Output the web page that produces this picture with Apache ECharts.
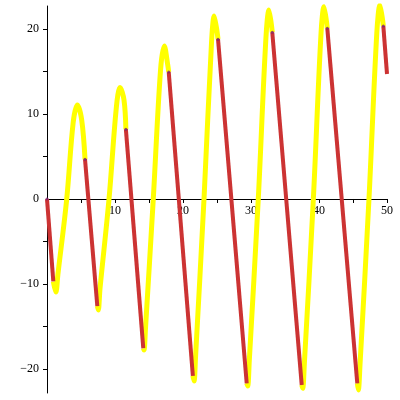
<!DOCTYPE html>
<html>
<head>
<meta charset="utf-8">
<script src="https://cdn.jsdelivr.net/npm/echarts@6/dist/echarts.min.js"></script>
<style>html,body{margin:0;padding:0;background:#fff;}#c{width:400px;height:400px;}</style>
</head>
<body>
<div id="c"></div>
<script>
// Red straight segments (start -> end)
const redStartX = [0, 5.59, 11.6, 17.9, 25.15, 33.13, 41.22, 49.46];
const redStartY = [0, 4.67, 8.2, 14.94, 18.8, 19.6, 20.08, 20.35];
const redEndX = [0.93, 7.4, 14.16, 21.45, 29.37, 37.46, 45.63, 50];
const redEndY = [-9.7, -12.6, -17.56, -20.8, -21.68, -21.88, -21.68, 14.7];

// Yellow arches between a red end and the next red start (trough -> peak)
const archX = [
  [1.3, 1.6, 2.9, 3.85, 4.46, 5.1],
  [7.54, 7.8, 9.12, 10.2, 10.74, 11.32],
  [14.26, 14.5, 15.63, 16.7, 17.25, 17.75],
  [21.62, 21.85, 23.09, 24.2, 24.6],
  [29.51, 29.75, 31.07, 32.2, 32.65],
  [37.6, 37.85, 39.17, 40.3, 40.74],
  [45.78, 46.03, 47.35, 48.5, 48.97]
];
const archY = [
  [-10.95, -8.9, 0, 9.0, 11.06, 9.3],
  [-13.06, -10.5, 0, 10.8, 13.1, 11.65],
  [-17.76, -15, 0, 15.2, 18.0, 15.8],
  [-21.41, -18.5, 0, 18.5, 21.53],
  [-22.0, -19, 0, 19, 22.24],
  [-22.27, -19.3, 0, 19.5, 22.62],
  [-22.47, -19.5, 0, 19.5, 22.82]
];

const xLabels = [10, 20, 30, 40, 50];
const xTicks = [5, 10, 15, 20, 25, 30, 35, 40, 45, 50];
const yLabels = [-20, -10, 0, 10, 20];
const yTicks = [-20, -15, -10, -5, 5, 10, 15, 20];
const yMin = -22.82, yMax = 22.7;

const series = [];
for (let i = 0; i < archX.length; i++) {
  const d = [[redEndX[i], redEndY[i]]];
  for (let k = 0; k < archX[i].length; k++) d.push([archX[i][k], archY[i][k]]);
  d.push([redStartX[i + 1], redStartY[i + 1]]);
  series.push({
    type: 'line', data: d, smooth: 0.35, showSymbol: false, silent: true,
    lineStyle: { color: '#ffff00', width: 5 }, z: 2, animation: false
  });
}
for (let i = 0; i < redStartX.length; i++) {
  series.push({
    type: 'line', data: [[redStartX[i], redStartY[i]], [redEndX[i], redEndY[i]]],
    showSymbol: false, silent: true,
    lineStyle: { color: '#cc3333', width: 4 }, z: 3, animation: false
  });
}
series.push({
  type: 'scatter', data: redStartX.map((x, i) => [x, redStartY[i]]),
  symbolSize: 3, itemStyle: { color: '#7a2070' }, z: 4, silent: true, animation: false
});

const font = 'Liberation Serif';
const gridTop = 6, gridBottom = 7, H = 400;
const plotH = H - gridTop - gridBottom;
// distance of y=0 above the grid bottom, in pixels
const zeroOffset = plotH * (0 - yMin) / (yMax - yMin);

const chart = echarts.init(document.getElementById('c'));
chart.setOption({
  animation: false,
  grid: { left: 47, right: 13, top: gridTop, bottom: gridBottom, containLabel: false, outerBoundsMode: 'none' },
  xAxis: {
    type: 'value', min: 0, max: 50, position: 'bottom', offset: -zeroOffset,
    axisLine: { onZero: false, lineStyle: { color: '#000', width: 1 } },
    axisTick: { customValues: xTicks, length: 4, lineStyle: { color: '#000' } },
    axisLabel: { customValues: xLabels, color: '#000', fontFamily: font, fontSize: 12, margin: 6 },
    splitLine: { show: false }
  },
  yAxis: {
    type: 'value', min: yMin, max: yMax,
    axisLine: { onZero: false, lineStyle: { color: '#000', width: 1 } },
    axisTick: { customValues: yTicks, length: 4, lineStyle: { color: '#000' } },
    axisLabel: {
      customValues: yLabels, color: '#000', fontFamily: font, fontSize: 12, margin: 8,
      formatter: v => (v < 0 ? '\u2212' + Math.abs(v) : String(v))
    },
    splitLine: { show: false }
  },
  series: series
});
</script>
</body>
</html>
